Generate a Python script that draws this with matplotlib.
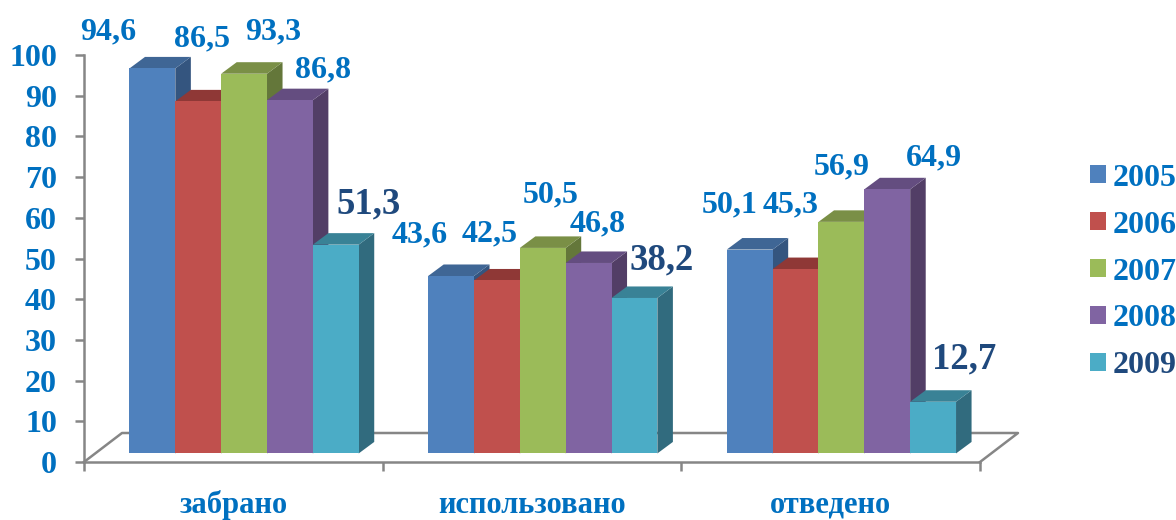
import numpy as np
import matplotlib
matplotlib.use("Agg")
import matplotlib.pyplot as plt

W, H = 1176, 520

categories = ["забрано", "использовано", "отведено"]
years = ["2005", "2006", "2007", "2008", "2009"]
v2005 = [94.6, 43.6, 50.1]
v2006 = [86.5, 42.5, 45.3]
v2007 = [93.3, 50.5, 56.9]
v2008 = [86.8, 46.8, 64.9]
v2009 = [51.3, 38.2, 12.7]
series = [v2005, v2006, v2007, v2008, v2009]
y_ticks = [0, 10, 20, 30, 40, 50, 60, 70, 80, 90, 100]

#colors front, top, side
front = ["#4F81BD", "#C0504D", "#9BBB59", "#8064A2", "#4BACC6"]
top = ["#3F6695", "#8F3836", "#7A8F46", "#644D80", "#398296"]
side = ["#34557F", "#7A2F2D", "#64773A", "#523E66", "#316B7E"]
blue = "#0070C0"
dark = "#1F497D"
gray = "#868686"

#hand placed data labels in the picture, in pixels, same order as series
label_px = [
    [(108, 32), (420, 235), (730, 205)],
    [(202, 39), (490, 234), (791, 205)],
    [(273, 32), (551, 195), (842, 167)],
    [(323, 70), (598, 224), (934, 158)],
    [(369, 204), (662, 260), (964, 359)],
]

plt.rcParams["font.family"] = ["Liberation Serif", "DejaVu Serif"]
plt.rcParams["font.weight"] = "bold"

fig = plt.figure(figsize=(W / 100, H / 100), dpi=100)
ax = fig.add_axes([84 / W, 1 - 462 / H, 896 / W, 407 / H])
ax.set_xlim(-0.5, 2.5)
ax.set_ylim(0, 100)

bar_w = 0.1535
base = 2.1  #bars stand on the floor, a bit above the zero line
dx = 0.052  #3d depth
dy = 2.83
shift = 0.036

#floor
ax.plot([0, 38 / 896, 934 / 896, 1], [0, 29 / 407, 29 / 407, 0], color=gray, lw=1.8,
        transform=ax.transAxes, clip_on=False, zorder=0.5)

for c in range(len(categories)):
    for s in range(len(years)):
        x0 = c + shift + (s - 2.5) * bar_w
        x1 = x0 + bar_w
        y1 = base + series[s][c]
        ax.fill([x1, x1 + dx, x1 + dx, x1], [base, base + dy, y1 + dy, y1], color=side[s], lw=0)
        ax.fill([x0, x0 + dx, x1 + dx, x1], [y1, y1 + dy, y1 + dy, y1], color=top[s], lw=0)
        ax.bar(x0, series[s][c], bar_w, bottom=base, align="edge", color=front[s], lw=0,
               label=years[s] if c == 0 else None)

for s in range(len(years)):
    for c in range(len(categories)):
        x, y = label_px[s][c]
        txt = f"{series[s][c]:.1f}".replace(".", ",")
        big = s == 4
        fig.text(x / W, 1 - y / H, txt, ha="center", va="center",
                 fontsize=26.5 if big else 23, color=dark if big else blue)

for sp in ["top", "right"]:
    ax.spines[sp].set_visible(False)
for sp in ["left", "bottom"]:
    ax.spines[sp].set_color(gray)
    ax.spines[sp].set_linewidth(1.8)

ax.set_yticks(y_ticks)
ax.tick_params(axis="y", length=6.5, width=1.8, color=gray, labelcolor=blue, labelsize=23, pad=13)
ax.set_xticks([-0.5, 0.5, 1.5, 2.5])
ax.set_xticklabels([])
ax.tick_params(axis="x", length=6.5, width=1.8, color=gray)

for c, name in enumerate(categories):
    ax.annotate(name, (c, 0), xytext=(0, -36.7), textcoords="offset points", ha="center", va="baseline",
                fontsize=22, color=blue, annotation_clip=False)

leg = ax.legend(loc="center left", bbox_to_anchor=(1090 / W, 1 - 272 / H), bbox_transform=fig.transFigure,
                frameon=False, fontsize=23, handlelength=0.5, handleheight=0.5, handletextpad=0.2,
                labelspacing=0.56, borderpad=0, borderaxespad=0)
for i, t in enumerate(leg.get_texts()):
    t.set_color(dark if i == 4 else blue)

fig.savefig("out.png", dpi=100)
